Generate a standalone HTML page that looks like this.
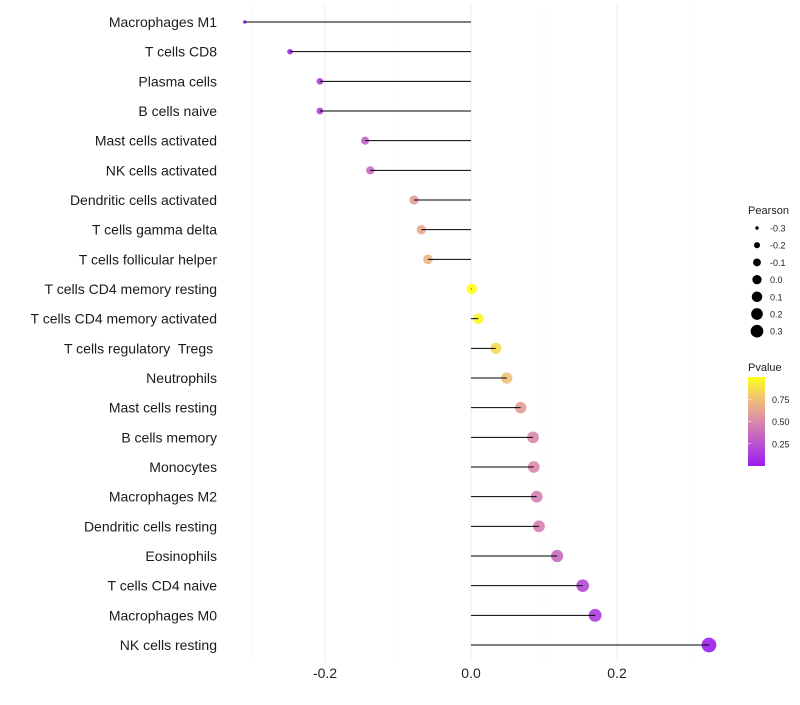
<!DOCTYPE html>
<html><head><meta charset="utf-8"><style>
body{margin:0;background:#fff;font-family:"Liberation Sans",sans-serif}
text{white-space:pre}
</style></head><body>
<svg id="chart" width="800" height="700" xmlns="http://www.w3.org/2000/svg">
<defs><linearGradient id="pg" x1="0" y1="1" x2="0" y2="0">
<stop offset="0" stop-color="#9a1cf0"/><stop offset="0.5" stop-color="#d98aaa"/><stop offset="0.75" stop-color="#f0bf78"/><stop offset="1" stop-color="#ffff1a"/></linearGradient></defs>
<g id="grid"></g><g id="points"></g><g id="marks"></g><g id="labels"></g><g id="legend"></g>
</svg>
<script>
const categories=["Macrophages M1","T cells CD8","Plasma cells","B cells naive","Mast cells activated","NK cells activated","Dendritic cells activated","T cells gamma delta","T cells follicular helper","T cells CD4 memory resting","T cells CD4 memory activated","T cells regulatory  Tregs ","Neutrophils","Mast cells resting","B cells memory","Monocytes","Macrophages M2","Dendritic cells resting","Eosinophils","T cells CD4 naive","Macrophages M0","NK cells resting"];
const pearson=[-0.310,-0.248,-0.207,-0.207,-0.145,-0.138,-0.078,-0.068,-0.059,0.001,0.010,0.034,0.049,0.068,0.085,0.086,0.090,0.093,0.118,0.153,0.170,0.326];
const pvalue=[0.01,0.10,0.15,0.15,0.30,0.35,0.60,0.65,0.70,1.00,0.97,0.85,0.75,0.60,0.50,0.50,0.45,0.45,0.35,0.20,0.15,0.01];
const xTicks=[-0.2,0.0,0.2];
const sizeTicks=[-0.3,-0.2,-0.1,0.0,0.1,0.2,0.3];
const pTicks=[0.25,0.50,0.75];
const NS="http://www.w3.org/2000/svg";
const x=v=>471+v*730;
const y=i=>22+i*(623/(categories.length-1));
const r=v=>Math.sqrt(Math.max(1,3+(v+0.31)*80));
function lerp(a,b,t){return a.map((c,i)=>Math.round(c+(b[i]-c)*t));}
const stops=[[0,[154,28,240]],[0.5,[217,138,170]],[0.75,[240,191,120]],[1,[255,255,26]]];
function col(p){for(let k=1;k<stops.length;k++){if(p<=stops[k][0]){const t=(p-stops[k-1][0])/(stops[k][0]-stops[k-1][0]);const c=lerp(stops[k-1][1],stops[k][1],t);return `rgb(${c})`;}}return 'rgb(255,255,26)';}
function mk(t,a,parent){const e=document.createElementNS(NS,t);for(const k in a)e.setAttribute(k,a[k]);document.getElementById(parent).appendChild(e);return e;}
[-0.3,-0.1,0.1,0.3].forEach(v=>{const l=mk('line',{x1:x(v),x2:x(v),y1:5,y2:662,stroke:'#f3f3f3','stroke-width':0.6},'grid');});
xTicks.forEach(v=>{const l=mk('line',{x1:x(v),x2:x(v),y1:5,y2:662,stroke:'#ebebeb','stroke-width':1},'grid');
const t=mk('text',{x:x(v),y:678,'font-size':14,'text-anchor':'middle',fill:'#222'},'labels');t.textContent=v.toFixed(1);});
categories.forEach((c,i)=>{
const d=mk('circle',{cx:x(pearson[i]),cy:y(i),r:r(pearson[i]),fill:col(pvalue[i]),'fill-opacity':0.9},'points');
const l=mk('line',{x1:x(0),x2:x(pearson[i]),y1:y(i),y2:y(i),stroke:'#000','stroke-width':1},'marks');
const t=mk('text',{x:217,y:y(i)+5,'font-size':14,'text-anchor':'end',fill:'#1a1a1a'},'labels');t.textContent=c;});
let t=mk('text',{x:748,y:214,'font-size':11,fill:'#222'},'legend');t.textContent='Pearson';
sizeTicks.forEach((v,i)=>{const yy=228+i*17.2;const c=mk('circle',{cx:757,cy:yy,r:r(v)*0.88,fill:'#000'},'legend');
const s=mk('text',{x:770,y:yy+3.5,'font-size':9,fill:'#222'},'legend');s.textContent=v.toFixed(1);});
t=mk('text',{x:748,y:371,'font-size':11,fill:'#222'},'legend');t.textContent='Pvalue';
const bar=mk('rect',{x:748,y:377,width:17,height:89,fill:'url(#pg)'},'legend');
pTicks.forEach(p=>{const yy=466-p*89;const s=mk('text',{x:772,y:yy+3.5,'font-size':9,fill:'#222'},'legend');s.textContent=p.toFixed(2);
const tk=mk('line',{x1:748,x2:751,y1:yy,y2:yy,stroke:'#fff','stroke-width':0.6},'legend');});
</script>
</body></html>
